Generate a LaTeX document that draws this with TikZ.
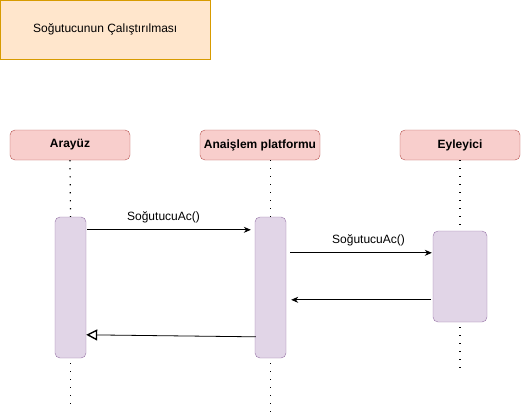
\documentclass[tikz,border=0pt]{standalone}
\usepackage{fontspec}
\setmainfont{Liberation Sans}
\usetikzlibrary{arrows.meta}
\definecolor{baslikdolgu}{HTML}{FFE6CC}
\definecolor{baslikcizgi}{HTML}{D79B00}
\definecolor{aktordolgu}{HTML}{F8CECC}
\definecolor{aktorcizgi}{HTML}{B85450}
\definecolor{cubukdolgu}{HTML}{E1D5E7}
\definecolor{cubukcizgi}{HTML}{9673A6}
\tikzset{
    baslik/.style={draw=baslikcizgi, fill=baslikdolgu, minimum width=209.5pt, minimum height=58.5pt},
    aktor/.style={draw=aktorcizgi, fill=aktordolgu, rounded corners=5pt, minimum width=120pt, minimum height=30pt, font=\fontsize{12}{14}\selectfont\bfseries},
    cubuk/.style={draw=cubukcizgi, fill=cubukdolgu, rounded corners=5pt, minimum width=31pt},
    hayat/.style={line width=1.2pt, dash pattern=on 1.2pt off 6.8pt},
    mesaj/.style={-{Stealth[length=7pt,width=6pt]}, line width=0.8pt},
    donus/.style={-{Triangle[open,length=11pt,width=11pt,line width=1.4pt]}, line width=0.8pt}
}
\begin{document}
\begin{tikzpicture}[x=1pt, y=-1pt, font=\fontsize{12}{14}\selectfont]
        \useasboundingbox (0,0) rectangle (521,416);
        % Baslik
        \node[baslik] (senaryo) at (105.25,29.75) {Soğutucunun Çalıştırılması};

        % Aktorler
        \node[aktor] (arayuz) at (70,145) {Arayüz};
        \node[aktor] (platform) at (260,145) {Anaişlem platformu};
        \node[aktor] (eyleyici) at (460,145) {Eyleyici};

        % Aktivasyon cubuklari
        \node[cubuk, minimum height=141pt] (c1) at (70.5,287.5) {};
        \node[cubuk, minimum height=141pt] (c2) at (270.5,287.5) {};
        \node[cubuk, minimum width=54pt, minimum height=91pt] (c3) at (460,276.5) {};

        % Hayat cizgileri
        \coordinate (son1) at (70.5,410);
        \coordinate (son2) at (270.5,412);
        \coordinate (son3) at (460,372);
        \draw[hayat] (arayuz.south) -- (c1.north);
        \draw[hayat] ([xshift=10.5pt]platform.south) -- (c2.north);
        \draw[hayat] (eyleyici.south) -- (c3.north);
        \draw[hayat] ([yshift=-5pt]c1.south) -- (son1);
        \draw[hayat] ([yshift=-5pt]c2.south) -- (son2);
        \draw[hayat] ([yshift=-5pt]c3.south) -- (son3);

        % Mesaj uclari
        \coordinate (m2a) at ([yshift=-22pt]c3.north west);
        \coordinate (m3a) at ([yshift=-69pt]c3.north west);
        \coordinate (m2b) at (c2.east |- m2a);
        \coordinate (m3b) at (c2.east |- m3a);

        % Mesajlar
        \draw[mesaj, shorten <=1pt, shorten >=4pt] ([yshift=-13pt]c1.north east) -- ([yshift=-13pt]c2.north west)
            node[midway, above=3pt, xshift=-7pt] {SoğutucuAc()};
        \draw[mesaj, shorten <=4pt, shorten >=1pt] (m2b) -- (m2a)
            node[midway, above=3pt, xshift=9pt] {SoğutucuAc()};
        \draw[mesaj, shorten <=2pt, shorten >=5pt] (m3a) -- (m3b);
        \draw[donus, shorten <=-1pt] ([yshift=-120pt]c2.north west) -- ([yshift=-118pt]c1.north east);
    \end{tikzpicture}
\end{document}
